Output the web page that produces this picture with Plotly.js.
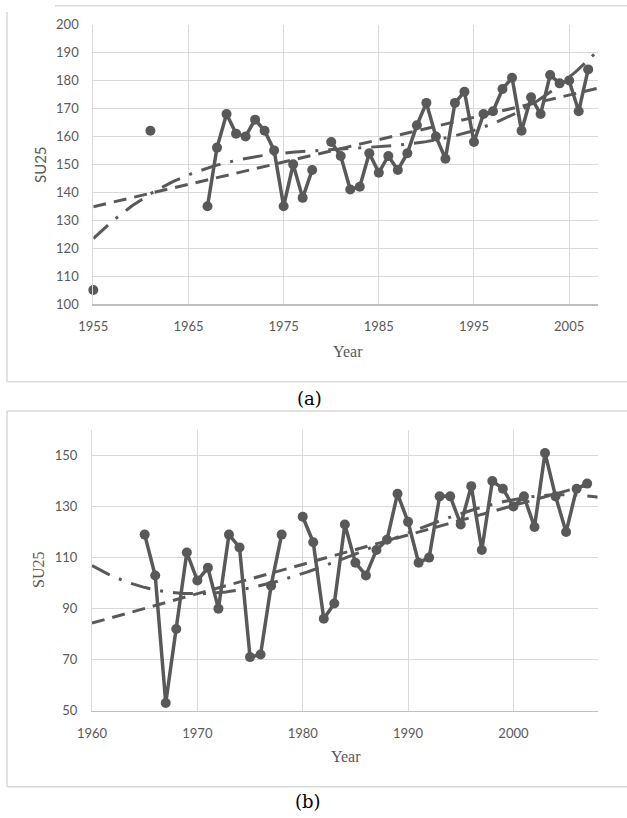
<!DOCTYPE html>
<html>
<head>
<meta charset="utf-8">
<script src="https://cdn.plot.ly/plotly-3.0.1.min.js"></script>
<style>
html,body{margin:0;padding:0;background:#fff;}
#chart{width:627px;height:818px;}
</style>
</head>
<body>
<div id="chart"></div>
<script>
// ---- Panel (a) data ----
const yearsA = [1955,1956,1957,1958,1959,1960,1961,1962,1963,1964,1965,1966,
  1967,1968,1969,1970,1971,1972,1973,1974,1975,1976,1977,1978,1979,
  1980,1981,1982,1983,1984,1985,1986,1987,1988,1989,1990,1991,1992,1993,1994,
  1995,1996,1997,1998,1999,2000,2001,2002,2003,2004,2005,2006,2007];
const su25A = [105,null,null,null,null,null,162,null,null,null,null,null,
  135,156,168,161,160,166,162,155,135,150,138,148,null,
  158,153,141,142,154,147,153,148,154,164,172,160,152,172,176,
  158,168,169,177,181,162,174,168,182,179,180,169,184];

// ---- Panel (b) data ----
const yearsB = [1965,1966,1967,1968,1969,1970,1971,1972,1973,1974,1975,1976,1977,1978,1979,
  1980,1981,1982,1983,1984,1985,1986,1987,1988,1989,1990,1991,1992,1993,1994,
  1995,1996,1997,1998,1999,2000,2001,2002,2003,2004,2005,2006,2007];
const su25B = [119,103,53,82,112,101,106,90,119,114,71,72,99,119,null,
  126,116,86,92,123,108,103,113,117,135,124,108,110,134,134,
  123,138,113,140,137,130,134,122,151,134,120,137,139];

const tickYearsA = [1955,1965,1975,1985,1995,2005];
const tickYearsB = [1960,1970,1980,1990,2000];

// least-squares polynomial fit (trend lines computed from the data)
function polyfit(xs, ys, deg){
  const px=[], py=[];
  xs.forEach((x,i)=>{ if(ys[i]!==null){px.push(x); py.push(ys[i]);} });
  const mx = px.reduce((a,b)=>a+b,0)/px.length;
  const s = 10;
  const n = deg+1;
  const A = Array.from({length:n},()=>new Array(n+1).fill(0));
  px.forEach((x,k)=>{
    const t=(x-mx)/s;
    for(let i=0;i<n;i++){
      for(let j=0;j<n;j++) A[i][j]+=Math.pow(t,i+j);
      A[i][n]+=Math.pow(t,i)*py[k];
    }
  });
  for(let c=0;c<n;c++){
    let p=c; for(let r=c+1;r<n;r++) if(Math.abs(A[r][c])>Math.abs(A[p][c])) p=r;
    [A[c],A[p]]=[A[p],A[c]];
    for(let r=0;r<n;r++){ if(r===c) continue; const f=A[r][c]/A[c][c];
      for(let k=c;k<=n;k++) A[r][k]-=f*A[c][k]; }
  }
  const coef=A.map((row,i)=>row[n]/A[i][i]);
  return x=>{const t=(x-mx)/s; let v=0; for(let i=0;i<n;i++) v+=coef[i]*Math.pow(t,i); return v;};
}
function sample(f, x0, x1){
  const xs=[], ys=[];
  for(let i=0;i<=200;i++){const x=x0+(x1-x0)*i/200; xs.push(x); ys.push(f(x));}
  return {xs, ys};
}

const col = '#595959';
const linA = sample(polyfit(yearsA, su25A, 1), 1955, 2008);
const polA = sample(polyfit(yearsA, su25A, 3), 1955, 2008);
const linB = sample(polyfit(yearsB, su25B, 1), 1960, 2008);
const polB = sample(polyfit(yearsB, su25B, 3), 1960, 2008);

const dataLine = {color: col, width: 3.5};
const mk = {color: col, size: 10};
const traces = [
  {x: linA.xs, y: linA.ys, mode:'lines', line:{color:col, width:3, dash:'13px,8px'}, xaxis:'x', yaxis:'y'},
  {x: polA.xs, y: polA.ys, mode:'lines', line:{color:col, width:3, dash:'20px,10px,3px,10px'}, xaxis:'x', yaxis:'y'},
  {x: yearsA, y: su25A, mode:'lines+markers', line: dataLine, marker: mk, connectgaps:false, cliponaxis:false, xaxis:'x', yaxis:'y'},
  {x: linB.xs, y: linB.ys, mode:'lines', line:{color:col, width:3, dash:'13px,8px'}, xaxis:'x2', yaxis:'y2'},
  {x: polB.xs, y: polB.ys, mode:'lines', line:{color:col, width:3, dash:'20px,10px,3px,10px'}, xaxis:'x2', yaxis:'y2'},
  {x: yearsB, y: su25B, mode:'lines+markers', line: dataLine, marker: mk, connectgaps:false, cliponaxis:false, xaxis:'x2', yaxis:'y2'}
];

const W=627, H=818;
const px = v=>v/W, py = v=>1-v/H;
const tickFont = {family:'Lato, "Open Sans", sans-serif', size:13, color:col};
const grid = '#d9d9d9';
function xax(dom, range, ticks, anchor){
  return {domain:dom, range:range, tickmode:'array', tickvals:ticks, ticktext:ticks.map(String),
    showgrid:true, gridcolor:grid, gridwidth:1, zeroline:false, showline:true, linecolor:'#bfbfbf', linewidth:1.5,
    ticks:'', ticklabelstandoff:10, tickfont:tickFont, anchor:anchor, fixedrange:true};
}
function yax(dom, range, tick0, dtick, anchor){
  return {domain:dom, range:range, tickmode:'linear', tick0:tick0, dtick:dtick,
    showgrid:true, gridcolor:grid, gridwidth:1, zeroline:false, showline:true, linecolor:grid, linewidth:1,
    ticks:'', ticklabelstandoff:11, tickfont:tickFont, anchor:anchor, fixedrange:true};
}

const border = '#d9d9d9';
const layout = {
  width:W, height:H, margin:{l:0,r:0,t:0,b:0},
  paper_bgcolor:'#fff', plot_bgcolor:'#fff', showlegend:false,
  xaxis: xax([px(93.3), px(597.7)], [1955,2008], tickYearsA, 'y'),
  yaxis: yax([py(304), py(24.7)], [100,200], 100, 10, 'x'),
  xaxis2: xax([px(92), px(597.7)], [1960,2008], tickYearsB, 'y2'),
  yaxis2: yax([py(710.7), py(430)], [50,160], 50, 20, 'x2'),
  shapes: [
    {type:'line', xref:'paper', yref:'paper', x0:px(55), x1:1, y0:py(5.7), y1:py(5.7), line:{color:border, width:1.5}},
    {type:'line', xref:'paper', yref:'paper', x0:px(7), x1:px(7), y0:py(12), y1:py(381.7), line:{color:border, width:1.5}},
    {type:'line', xref:'paper', yref:'paper', x0:px(7), x1:1, y0:py(381.7), y1:py(381.7), line:{color:border, width:1.5}},
    {type:'line', xref:'paper', yref:'paper', x0:px(7), x1:1, y0:py(411), y1:py(411), line:{color:border, width:1.5}},
    {type:'line', xref:'paper', yref:'paper', x0:px(7), x1:px(7), y0:py(411), y1:py(786.7), line:{color:border, width:1.5}},
    {type:'line', xref:'paper', yref:'paper', x0:px(7), x1:1, y0:py(786.7), y1:py(786.7), line:{color:border, width:1.5}}
  ],
  annotations: [
    {text:'Year', xref:'paper', yref:'paper', x:px(347.7), y:py(351.7), xanchor:'center', yanchor:'middle', showarrow:false,
      font:{family:'"Liberation Serif", "Times New Roman", serif', size:16, color:col}},
    {text:'SU25', xref:'paper', yref:'paper', x:px(40), y:py(165), xanchor:'center', yanchor:'middle', showarrow:false, textangle:-90,
      font:{family:'Lato, "Open Sans", sans-serif', size:15, color:col}},
    {text:'(a)', xref:'paper', yref:'paper', x:px(309), y:py(398), xanchor:'center', yanchor:'middle', showarrow:false,
      font:{family:'"DejaVu Serif", serif', size:18, color:'#000'}},
    {text:'Year', xref:'paper', yref:'paper', x:px(345.7), y:py(756), xanchor:'center', yanchor:'middle', showarrow:false,
      font:{family:'"Liberation Serif", "Times New Roman", serif', size:16, color:col}},
    {text:'SU25', xref:'paper', yref:'paper', x:px(38), y:py(570), xanchor:'center', yanchor:'middle', showarrow:false, textangle:-90,
      font:{family:'"Liberation Serif", "Times New Roman", serif', size:16, color:col}},
    {text:'(b)', xref:'paper', yref:'paper', x:px(308), y:py(801.5), xanchor:'center', yanchor:'middle', showarrow:false,
      font:{family:'"DejaVu Serif", serif', size:18, color:'#000'}}
  ]
};
Plotly.newPlot('chart', traces, layout, {staticPlot:true, displayModeBar:false});
</script>
</body>
</html>
